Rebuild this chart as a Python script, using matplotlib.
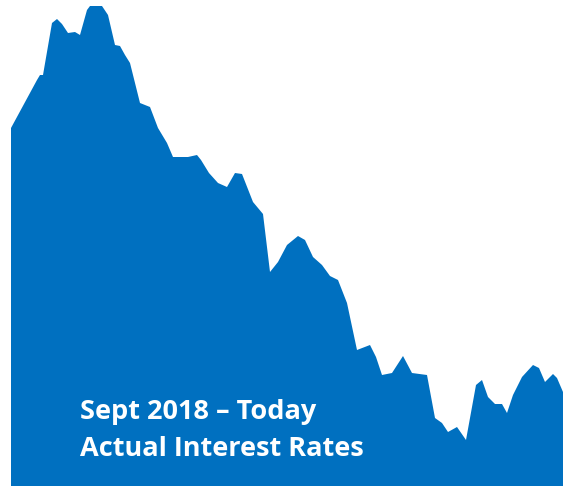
import matplotlib.pyplot as plt

# weekly positions (weeks since Sept 2018) and the rate (%)
weeks = [0, 6.5, 7.25, 8, 10.25, 11.5, 12.75, 14.25, 16, 17.25, 19, 19.75, 22.75,
         24.25, 26, 27.25, 28.5, 29.75, 32.25, 34.75, 36.75, 39, 40.5, 44.25, 46.5,
         47.5, 49.5, 51.75, 54, 56, 57.75, 60.5, 63, 64.75, 66.75, 69, 71.75, 73.5,
         75.5, 77.75, 79.75, 81.75, 84, 86.5, 89.75, 91.25, 92.75, 95.25, 98, 100.25,
         104, 106, 107.75, 109.25, 111.5, 113.75, 116.25, 117.75, 119.25, 121, 122.75,
         124, 125.5, 127.75, 130.5, 132, 133.5, 135.5, 136.5, 138]
rates = [4.29, 4.53, 4.555, 4.555, 4.815, 4.835, 4.81, 4.765, 4.77, 4.755, 4.88, 4.90,
         4.90, 4.855, 4.705, 4.70, 4.655, 4.615, 4.415, 4.395, 4.29, 4.215, 4.145,
         4.145, 4.155, 4.13, 4.065, 4.015, 3.995, 4.065, 4.06, 3.92, 3.86, 3.57, 3.62,
         3.705, 3.75, 3.73, 3.645, 3.605, 3.55, 3.53, 3.415, 3.18, 3.205, 3.145, 3.055,
         3.065, 3.15, 3.065, 3.055, 2.84, 2.815, 2.77, 2.795, 2.73, 3.005, 3.03, 2.945,
         2.91, 2.91, 2.865, 2.955, 3.045, 3.105, 3.09, 3.02, 3.06, 3.04, 2.97]

title_lines = ["Sept 2018 \u2013 Today", "Actual Interest Rates"]

BLUE = "#0070C0"

fig = plt.figure(figsize=(5.63, 4.86), dpi=100)
ax = fig.add_axes([0, 0, 1, 1])
ax.fill_between(weeks, rates, 2.0, color=BLUE, linewidth=0)
ax.set_xlim(-2.75, 138)
ax.set_ylim(2.5, 4.93)
ax.axis("off")

# caption inside the area
fig.text(80 / 563, 1 - 419 / 486, title_lines[0], color="white", fontsize=19.5,
         fontweight="bold", family=["Open Sans", "DejaVu Sans"], va="baseline", ha="left")
fig.text(80 / 563, 1 - 456 / 486, title_lines[1], color="white", fontsize=19.5,
         fontweight="bold", family=["Open Sans", "DejaVu Sans"], va="baseline", ha="left")

fig.savefig("out.png", dpi=100, facecolor="white")
